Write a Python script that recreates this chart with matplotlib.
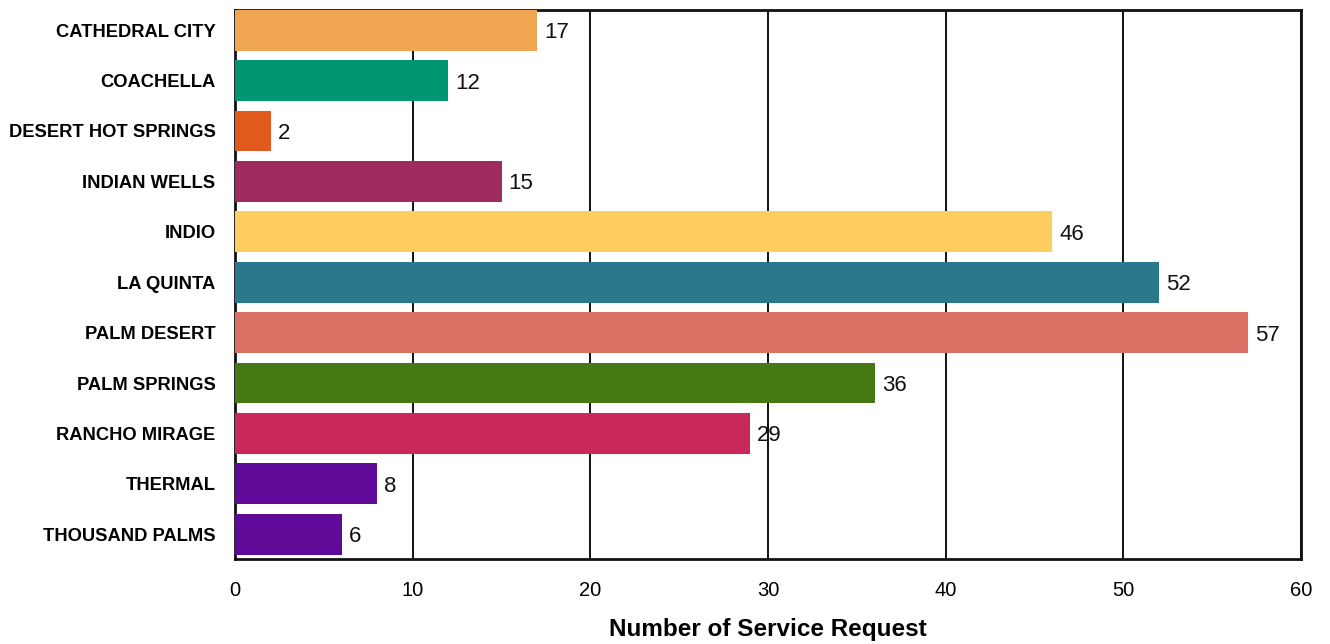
import matplotlib
matplotlib.use("Agg")
import matplotlib.pyplot as plt

categories = ["CATHEDRAL CITY", "COACHELLA", "DESERT HOT SPRINGS", "INDIAN WELLS", "INDIO",
              "LA QUINTA", "PALM DESERT", "PALM SPRINGS", "RANCHO MIRAGE", "THERMAL", "THOUSAND PALMS"]
values = [17, 12, 2, 15, 46, 52, 57, 36, 29, 8, 6]
colors = ["#F0A552", "#009672", "#E05A1E", "#A02C5F", "#FDCD60", "#2A788C",
          "#DB7064", "#467814", "#C8285A", "#600A9A", "#600A9A"]
xticks = [0, 10, 20, 30, 40, 50, 60]

plt.rcParams['font.family'] = ['Liberation Sans', 'DejaVu Sans']
fig = plt.figure(figsize=(13.3, 6.44), dpi=100)
ax = fig.add_axes([235/1330, 1-559/644, (1301-235)/1330, (559-10)/644])

y = list(range(len(categories)))
ax.barh(y, values, height=0.81, color=colors, zorder=3)
for yi, v in zip(y, values):
    ax.text(v + 0.4, yi + 0.05, str(v), va='center', ha='left', fontsize=16, color='#111111', zorder=4)

ax.set_xlim(0, 60)
ax.set_ylim(len(categories) - 0.51, -0.40)
ax.set_xticks(xticks)
ax.set_xticklabels([str(t) for t in xticks], fontsize=14.5)
ax.set_yticks(y)
ax.set_yticklabels(categories, fontsize=13.2, fontweight='bold')
ax.tick_params(axis='x', length=0, pad=16)
ax.tick_params(axis='y', length=0, pad=14)
ax.xaxis.grid(True, color='black', linewidth=1.3, zorder=0)
for s in ax.spines.values():
    s.set_linewidth(2)
    s.set_color('#111111')
ax.set_xlabel("Number of Service Request", fontsize=17.5, fontweight='bold', labelpad=13)

fig.savefig("out.png", dpi=100)
